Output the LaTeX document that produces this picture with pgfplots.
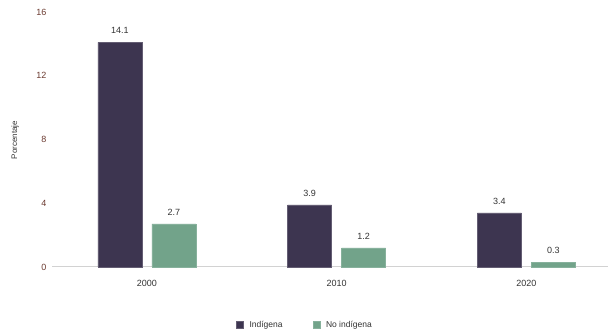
\documentclass[border=0pt]{standalone}
\usepackage{pgfplots}
\pgfplotsset{compat=1.18}
\usepackage{fontspec}
\setmainfont{Liberation Sans}
\definecolor{dark}{HTML}{3D3550}
\definecolor{green}{HTML}{72A38A}
\definecolor{tick}{HTML}{6B3A30}
\definecolor{txt}{HTML}{333333}
\begin{document}
\begin{tikzpicture}[x=1pt,y=1pt]
\useasboundingbox (0,0) rectangle (609,336);
\begin{axis}[
  at={(52pt,69pt)}, anchor=south west,
  scale only axis, width=556pt, height=255pt,
  xmin=-0.5, xmax=2.43, ymin=0, ymax=16,
  ybar, bar width=44pt,
  xtick={0,1,2}, xticklabels={2000,2010,2020},
  ytick={0,4,8,12,16},
  axis lines*=left,
  y axis line style={draw=none},
  x axis line style={draw=gray!35, line width=1pt, -},
  xtick style={draw=none},
  ytick style={draw=none},
  clip=false,
  tick label style={font=\fontsize{9}{10}\selectfont, text=txt},
  xticklabel style={yshift=-5pt},
  yticklabel style={text=tick, xshift=-2pt},
  /pgf/number format/assume math mode=true,
  nodes near coords,
  nodes near coords style={font=\fontsize{9}{10}\selectfont, text=txt, yshift=5pt, /pgf/number format/fixed, /pgf/number format/precision=1, /pgf/number format/fixed zerofill},
  legend style={at={(0.455,-0.227)}, anchor=center, draw=none, legend columns=2, font=\fontsize{8.5}{10}\selectfont, text=txt, /tikz/every even column/.append style={column sep=28pt}, /tikz/every odd column/.append style={column sep=4pt}},
  legend image code/.code={\fill[#1] (0pt,-3.5pt) rectangle (7pt,3.5pt);},
]
\addplot[fill=dark, draw=dark!80!white, bar shift=-27pt] coordinates {(0,14.1) (1,3.9) (2,3.4)};
\addplot[fill=green, draw=green!85!white, bar shift=27pt] coordinates {(0,2.7) (1,1.2) (2,0.3)};
\legend{Indígena, No indígena}
\end{axis}
\node[rotate=90, font=\fontsize{8}{9}\selectfont, text=txt] at (15,196) {Porcentaje};
\end{tikzpicture}
\end{document}
